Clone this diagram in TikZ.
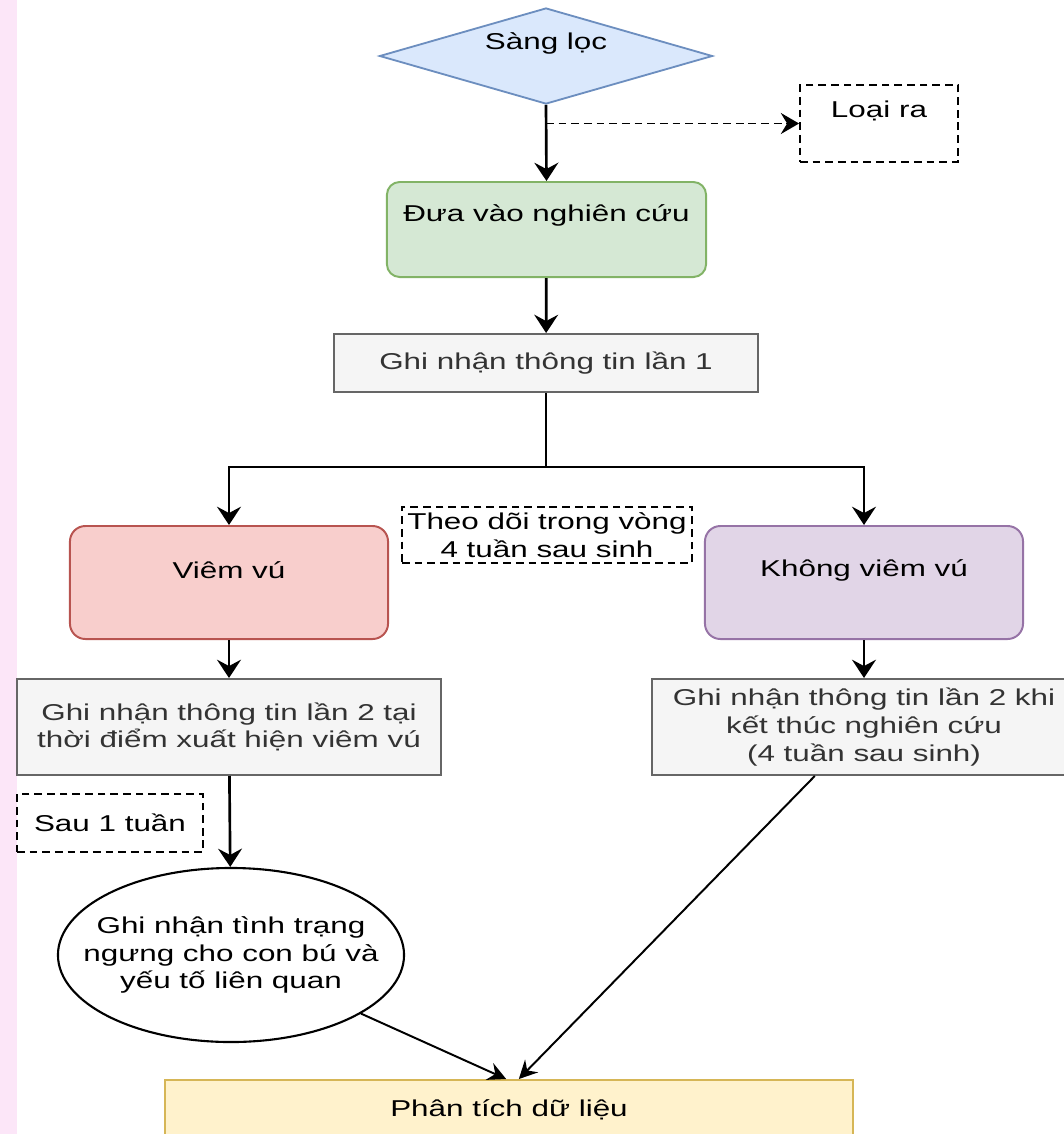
\documentclass[tikz,border=0pt]{standalone}
\usepackage{fontspec}
\setmainfont[FakeStretch=1.37]{Liberation Sans}
\usetikzlibrary{calc, shapes.geometric, arrows.meta}
\definecolor{dioblue}{HTML}{DAE8FC}
\definecolor{diobluedraw}{HTML}{6C8EBF}
\definecolor{diogreen}{HTML}{D5E8D4}
\definecolor{diogreendraw}{HTML}{82B366}
\definecolor{diored}{HTML}{F8CECC}
\definecolor{dioreddraw}{HTML}{B85450}
\definecolor{diopurple}{HTML}{E1D5E7}
\definecolor{diopurpledraw}{HTML}{9673A6}
\definecolor{diogray}{HTML}{F5F5F5}
\definecolor{diograydraw}{HTML}{666666}
\definecolor{diograytext}{HTML}{333333}
\definecolor{dioyellow}{HTML}{FFF2CC}
\definecolor{dioyellowdraw}{HTML}{D6B656}
\definecolor{sidepink}{HTML}{FCE6F8}
\tikzstyle{normalBox} = [shape=rectangle, line width=1.4pt, align=center, inner sep=0pt]
\tikzstyle{blueDiamond} = [shape=diamond, draw=diobluedraw, fill=dioblue, line width=1.3pt,
	inner sep=0pt, minimum width=8.325cm, minimum height=2.4cm]
\tikzstyle{greenBox} = [normalBox, draw=diogreendraw, fill=diogreen, rounded corners=9pt]
\tikzstyle{redBox} = [normalBox, draw=dioreddraw, fill=diored, rounded corners=11pt,
	minimum width=7.95cm, minimum height=2.825cm]
\tikzstyle{purpleBox} = [normalBox, draw=diopurpledraw, fill=diopurple, rounded corners=11pt,
	minimum width=7.95cm, minimum height=2.825cm]
\tikzstyle{grayBox} = [normalBox, draw=diograydraw, fill=diogray, text=diograytext, minimum width=10.6cm]
\tikzstyle{yellowBox} = [normalBox, draw=dioyellowdraw, fill=dioyellow]
\tikzstyle{noteBox} = [normalBox, draw=black, line width=1.3pt, dash pattern=on 5.5pt off 3.5pt, fill=white]
\tikzstyle{roundNode} = [shape=ellipse, draw=black, line width=1.5pt, fill=white, inner sep=0pt,
	minimum width=8.65cm, minimum height=4.35cm]
\tikzstyle{normalArrow} = [line width=1.9pt, draw=black, -{Stealth[length=13pt, width=17pt, inset=4.5pt]}]
\tikzstyle{thinArrow} = [line width=1.4pt, draw=black, -{Stealth[length=13pt, width=13pt, inset=4.5pt]}]
\tikzstyle{dashArrow} = [line width=1.3pt, draw=black, dash pattern=on 5.5pt off 3.5pt,
	-{Stealth[length=13pt, width=15pt, inset=4.5pt]}]
\tikzstyle{plainLine} = [line width=1.9pt, draw=black]

\begin{document}
\begin{tikzpicture}[x=0.025cm, y=-0.025cm, font=\fontsize{16.3}{19.6}\selectfont]
  \useasboundingbox (0,0) rectangle (1064,1134);
  \fill[sidepink] (0,0) rectangle (17,1134);

  \node (SCRN) [blueDiamond, label={[yshift=9pt]center:Sàng lọc}] at (546,56) {};
  \node (EXCL) [noteBox, minimum width=3.95cm, minimum height=1.925cm,
    label={[yshift=9pt]center:Loại ra}] at (879,123.5) {};
  \node (ENRL) [greenBox, minimum width=7.975cm, minimum height=2.375cm,
    label={[yshift=10pt]center:Đưa vào nghiên cứu}] at (546.5,229.5) {};
  \node (REC1) [grayBox, minimum height=1.45cm] at (546,363) {Ghi nhận thông tin lần 1};
  \node (FLUP) [noteBox, minimum width=7.25cm, minimum height=1.4cm] at (547,535)
    {Theo dõi trong vòng\\4 tuần sau sinh};
  \node (MAST) [redBox, label={[yshift=8.5pt]center:Viêm vú}] at (229,582.5) {};
  \node (NOMA) [purpleBox, label={[yshift=8.5pt]center:Không viêm vú}] at (864,582.5) {};
  \node (REC2) [grayBox, minimum height=2.4cm] at (229,727)
    {Ghi nhận thông tin lần 2 tại\\thời điểm xuất hiện viêm vú};
  \node (REC3) [grayBox, minimum height=2.4cm] at (864,727)
    {Ghi nhận thông tin lần 2 khi\\kết thúc nghiên cứu\\(4 tuần sau sinh)};
  \node (WEEK) [noteBox, minimum width=4.65cm, minimum height=1.45cm] at (110,823) {Sau 1 tuần};
  \node (STOP) [roundNode, label={[align=center]center:Ghi nhận tình trạng\\ngưng cho con bú và\\yếu tố liên quan}]
    at (231,955) {};
  \node (DATA) [yellowBox, minimum width=17.2cm, minimum height=1.5cm] at (509,1110) {Phân tích dữ liệu};

  \coordinate (SPLIT) at (546,467);

  \draw [normalArrow] (SCRN.south) -- (ENRL.north);
  \draw [dashArrow] (SCRN.south |- EXCL.west) -- (EXCL.west);
  \draw [normalArrow] (ENRL) -- (REC1);
  \draw [plainLine] (REC1) -- (SPLIT);
  \draw [normalArrow] (SPLIT) -| (MAST);
  \draw [normalArrow] (SPLIT) -| (NOMA);
  \draw [normalArrow] (MAST) -- (REC2);
  \draw [normalArrow] (NOMA) -- (REC3);
  \draw [normalArrow] (REC2) -- (STOP);
  \draw [thinArrow] (STOP) -- ([xshift=-2pt]DATA.north);
  \draw [thinArrow] ([xshift=-35pt]REC3.south) -- ([xshift=7pt]DATA.north);

\end{tikzpicture}
\end{document}
